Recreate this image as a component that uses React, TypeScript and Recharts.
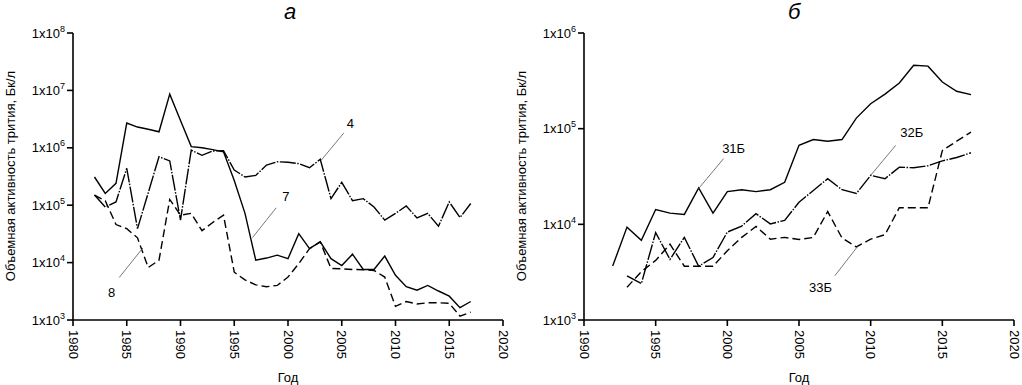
import React from 'react';
import { LineChart, Line, XAxis, YAxis, ReferenceLine, ReferenceDot } from 'recharts';

// ---------- Panel а ----------
const yearsA = [1982, 1983, 1984, 1985, 1986, 1987, 1988, 1989, 1990, 1991, 1992, 1993, 1994, 1995, 1996, 1997, 1998, 1999, 2000, 2001, 2002, 2003, 2004, 2005, 2006, 2007, 2008, 2009, 2010, 2011, 2012, 2013, 2014, 2015, 2016, 2017];
const well7 = [3.1e5, 1.6e5, 2.4e5, 2.7e6, 2.3e6, 2.1e6, 1.9e6, 8.6e6, 3.0e6, 1.05e6, 1.0e6, 9.3e5, 8.5e5, 2.7e5, 7.2e4, 1.1e4, 1.2e4, 1.35e4, 1.17e4, 3.2e4, 1.75e4, 2.3e4, 1.17e4, 8.9e3, 1.4e4, 7.6e3, 7.6e3, 1.3e4, 6.0e3, 3.8e3, 3.3e3, 4.0e3, 3.2e3, 2.6e3, 1.64e3, 2.1e3];
const well4 = [1.5e5, 9.3e4, 1.14e5, 4.4e5, 3.9e4, 1.65e5, 7.0e5, 5.9e5, 5.5e4, 9.1e5, 7.4e5, 8.8e5, 8.9e5, 4.1e5, 3.1e5, 3.3e5, 5.0e5, 5.7e5, 5.6e5, 5.3e5, 4.5e5, 6.3e5, 1.3e5, 2.5e5, 1.2e5, 1.3e5, 9.3e4, 5.5e4, 7.2e4, 9.7e4, 6.0e4, 7.2e4, 4.3e4, 1.14e5, 6.1e4, 1.07e5];
const well8 = [1.5e5, 1.2e5, 4.6e4, 3.9e4, 2.7e4, 8.2e3, 1.1e4, 1.26e5, 6.7e4, 7.2e4, 3.6e4, 5.0e4, 6.7e4, 6.8e3, 5.0e3, 4.1e3, 3.8e3, 4.0e3, 5.6e3, 9.6e3, 1.75e4, 2.3e4, 7.9e3, 7.8e3, 7.6e3, 7.5e3, 7.3e3, 5.6e3, 1.73e3, 2.1e3, 1.9e3, 2.0e3, 2.0e3, 1.95e3, 1.17e3, 1.37e3];
const ticksXA = [1980, 1985, 1990, 1995, 2000, 2005, 2010, 2015, 2020];
const ticksYA = [1e3, 1e4, 1e5, 1e6, 1e7, 1e8];

// annotation labels (name, x, y) and leader segments [x1,y1,x2,y2] in data units
const notesA = [
  { name: '4', x: 2005.8, y: 2.66e6, seg: [2005.2, 1.82e6, 2003.1, 6.1e5] },
  { name: '7', x: 1999.8, y: 1.45e5, seg: [1998.9, 9.0e4, 1996.7, 2.73e4] },
  { name: '8', x: 1983.6, y: 3.08e3, seg: [1984.3, 5.5e3, 1986.5, 1.8e4] },
];

// ---------- Panel б ----------
const yearsB = [1992, 1993, 1994, 1995, 1996, 1997, 1998, 1999, 2000, 2001, 2002, 2003, 2004, 2005, 2006, 2007, 2008, 2009, 2010, 2011, 2012, 2013, 2014, 2015, 2016, 2017];
const well31 = [3.66e3, 9.35e3, 6.8e3, 1.43e4, 1.31e4, 1.27e4, 2.4e4, 1.31e4, 2.2e4, 2.3e4, 2.2e4, 2.3e4, 2.75e4, 6.7e4, 7.7e4, 7.4e4, 7.7e4, 1.29e5, 1.82e5, 2.3e5, 3.0e5, 4.6e5, 4.5e5, 3.07e5, 2.46e5, 2.27e5];
const well32 = [null, 2.9e3, 2.4e3, 8.2e3, 4.3e3, 7.3e3, 3.65e3, 4.5e3, 8.3e3, 9.6e3, 1.29e4, 1.01e4, 1.1e4, 1.7e4, 2.26e4, 3.0e4, 2.3e4, 2.1e4, 3.25e4, 3.0e4, 3.96e4, 3.9e4, 4.1e4, 4.6e4, 5.0e4, 5.6e4];
const well33 = [null, 2.2e3, 3.2e3, 4.2e3, 6.2e3, 3.65e3, 3.65e3, 3.65e3, 5.3e3, 7.3e3, 9.5e3, 7.0e3, 7.3e3, 6.95e3, 7.3e3, 1.36e4, 7.2e3, 5.8e3, 7.0e3, 7.8e3, 1.49e4, 1.49e4, 1.49e4, 5.9e4, 7.4e4, 9.2e4];
const ticksXB = [1990, 1995, 2000, 2005, 2010, 2015, 2020];
const ticksYB = [1e3, 1e4, 1e5, 1e6];

const notesB = [
  { name: '31Б', x: 2000.44, y: 6.2e4, seg: [1999.74, 4.86e4, 1997.99, 2.36e4] },
  { name: '32Б', x: 2012.87, y: 9.2e4, seg: [2011.75, 6.7e4, 2010.0, 3.25e4] },
  { name: '33Б', x: 2006.5, y: 2.2e3, seg: [2007.5, 2.9e3, 2009.1, 5.9e3] },
];

const FONT = '"Liberation Sans", Arial, Helvetica, sans-serif';
const Y_TITLE = 'Объемная активность трития, Бк/л';
const X_TITLE = 'Год';

const dataA = yearsA.map((year, i) => ({ year, s7: well7[i], s4: well4[i], s8: well8[i] }));
const dataB = yearsB.map((year, i) => ({ year, s31: well31[i], s32: well32[i], s33: well33[i] }));

const renderYTick = (props: any) => {
  const { x, y, payload } = props;
  const exp = Math.round(Math.log10(payload.value));
  return (
    <text x={x} y={y + 4.5} textAnchor="end" fontFamily={FONT} fontSize={13} fill="#000">
      <tspan>1x10</tspan>
      <tspan dy={-6} fontSize={9}>{exp}</tspan>
    </text>
  );
};

// X axis: tick labels written top-to-bottom (rotated 90° clockwise)
const renderXTick = (props: any) => {
  const { x, y, payload } = props;
  const px = Math.round(Number(x) * 10) / 10;
  const py = Math.round(Number(y) * 10) / 10 + 2;
  return (
    <g transform={`translate(${px} ${py}) rotate(90)`}>
      <text x={0} y={0} textAnchor="start" dominantBaseline="central" fontFamily={FONT} fontSize={13} fill="#000">
        {payload.value}
      </text>
    </g>
  );
};

const YTitle = () => (
  <text
    x={10}
    y={176}
    transform="rotate(-90, 10, 176)"
    textAnchor="middle"
    dominantBaseline="central"
    fontFamily={FONT}
    fontSize={13}
    fill="#000"
  >
    {Y_TITLE}
  </text>
);

const XTitle = () => (
  <text x={288} y={382} textAnchor="middle" fontFamily={FONT} fontSize={13} fill="#000">
    {X_TITLE}
  </text>
);

const axisStyle = { stroke: '#000', strokeWidth: 1.6 };
const SOLID = undefined;
const DASHDOT = '16 1.5 1.5 1.5';
const DASHED = '8 4';

const renderNotes = (notes: typeof notesA) =>
  notes.flatMap((n) => [
    <ReferenceLine
      key={'l' + n.name}
      segment={[{ x: n.seg[0], y: n.seg[1] }, { x: n.seg[2], y: n.seg[3] }]}
      stroke="#555"
      strokeWidth={0.8}
    />,
    <ReferenceDot
      key={'d' + n.name}
      x={n.x}
      y={n.y}
      r={0}
      fill="none"
      stroke="none"
      label={{ value: n.name, position: 'center', fontSize: 13, fill: '#000', fontFamily: FONT }}
    />,
  ]);

const margin = { top: 33, right: 8, bottom: 0, left: 0 };
const titleStyle: React.CSSProperties = {
  position: 'absolute',
  top: 0,
  fontSize: 22,
  lineHeight: '24px',
  fontStyle: 'italic',
  fontFamily: FONT,
  color: '#000',
};

export default function App() {
  return (
    <div style={{ position: 'absolute', left: 0, top: 0, width: 1022, height: 385, background: '#fff', fontFamily: FONT }}>
      <div style={{ ...titleStyle, left: 284 }}>а</div>
      <div style={{ ...titleStyle, left: 788 }}>б</div>

      <div style={{ position: 'absolute', left: 0, top: 0 }}>
        <LineChart width={511} height={385} data={dataA} margin={margin}>
          <XAxis
            dataKey="year"
            type="number"
            domain={[1980, 2020]}
            ticks={ticksXA}
            interval={0}
            height={65}
            tick={renderXTick}
            tickSize={6}
            axisLine={axisStyle}
            tickLine={axisStyle}
            label={<XTitle />}
          />
          <YAxis
            type="number"
            scale="log"
            domain={[1e3, 1e8]}
            ticks={ticksYA}
            interval={0}
            allowDataOverflow
            width={73}
            tick={renderYTick}
            tickSize={6}
            axisLine={axisStyle}
            tickLine={axisStyle}
            label={<YTitle />}
          />
          <Line dataKey="s7" stroke="#000" strokeWidth={1.4} strokeDasharray={SOLID} dot={false} activeDot={false} isAnimationActive={false} type="linear" />
          <Line dataKey="s4" stroke="#000" strokeWidth={1.4} strokeDasharray={DASHDOT} dot={false} activeDot={false} isAnimationActive={false} type="linear" />
          <Line dataKey="s8" stroke="#000" strokeWidth={1.4} strokeDasharray={DASHED} dot={false} activeDot={false} isAnimationActive={false} type="linear" />
          {renderNotes(notesA)}
        </LineChart>
      </div>

      <div style={{ position: 'absolute', left: 511, top: 0 }}>
        <LineChart width={511} height={385} data={dataB} margin={margin}>
          <XAxis
            dataKey="year"
            type="number"
            domain={[1990, 2020]}
            ticks={ticksXB}
            interval={0}
            height={65}
            tick={renderXTick}
            tickSize={6}
            axisLine={axisStyle}
            tickLine={axisStyle}
            label={<XTitle />}
          />
          <YAxis
            type="number"
            scale="log"
            domain={[1e3, 1e6]}
            ticks={ticksYB}
            interval={0}
            allowDataOverflow
            width={73}
            tick={renderYTick}
            tickSize={6}
            axisLine={axisStyle}
            tickLine={axisStyle}
            label={<YTitle />}
          />
          <Line dataKey="s31" stroke="#000" strokeWidth={1.4} strokeDasharray={SOLID} dot={false} activeDot={false} isAnimationActive={false} type="linear" />
          <Line dataKey="s32" stroke="#000" strokeWidth={1.4} strokeDasharray={DASHDOT} dot={false} activeDot={false} isAnimationActive={false} type="linear" />
          <Line dataKey="s33" stroke="#000" strokeWidth={1.4} strokeDasharray={DASHED} dot={false} activeDot={false} isAnimationActive={false} type="linear" />
          {renderNotes(notesB)}
        </LineChart>
      </div>
    </div>
  );
}
